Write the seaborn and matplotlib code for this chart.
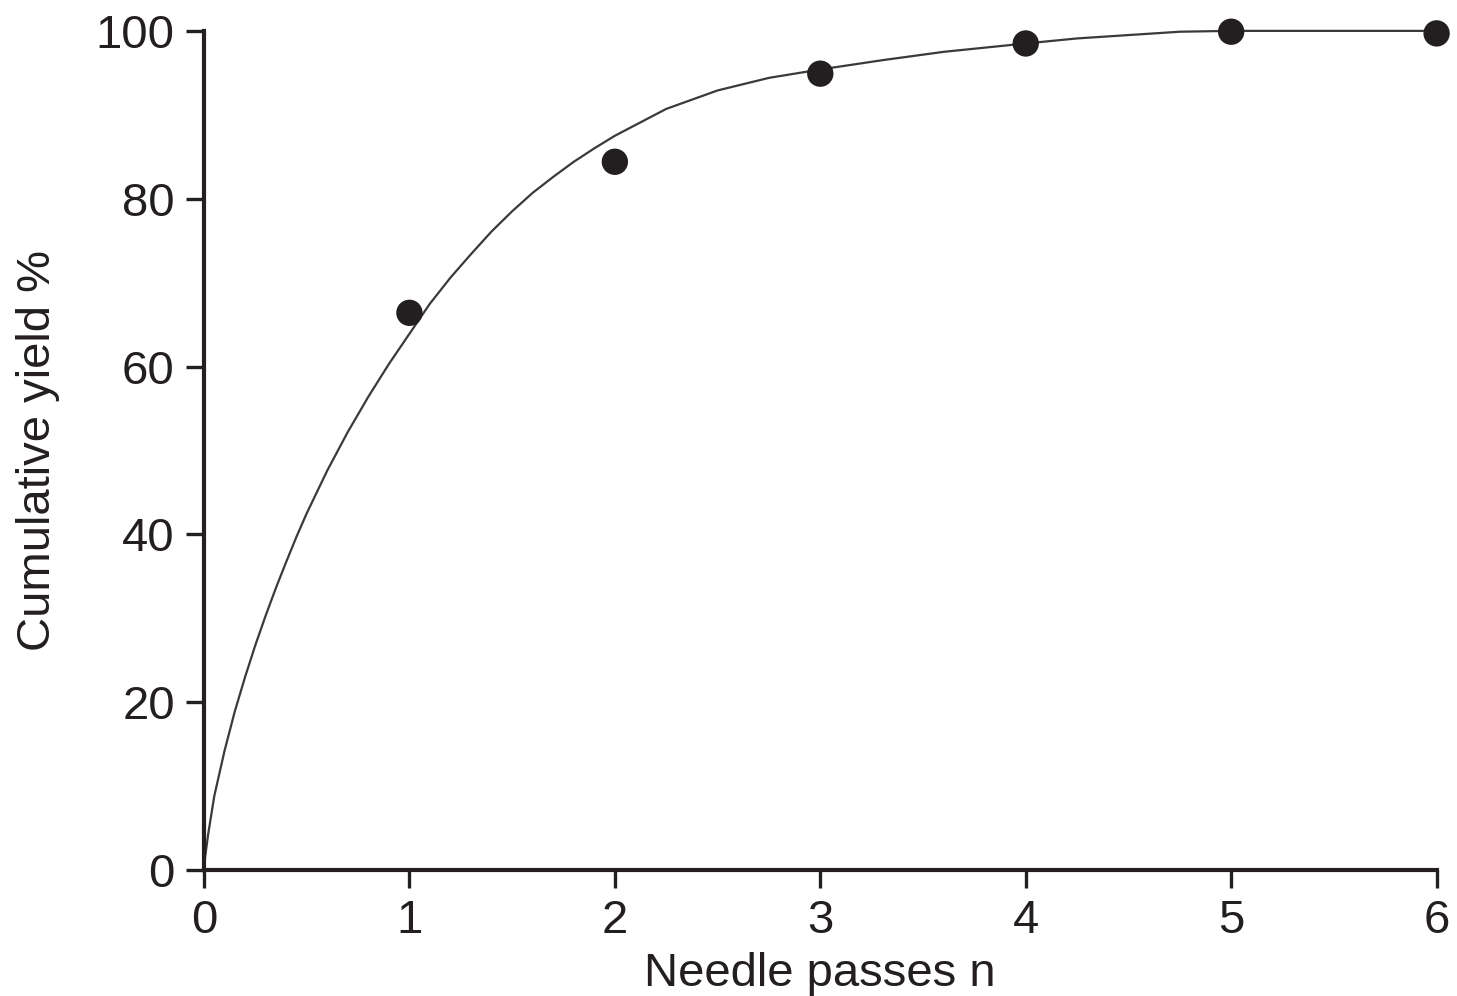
import pandas as pd
import matplotlib
matplotlib.use("Agg")
import matplotlib.pyplot as plt
import seaborn as sns

# measured points (needle passes vs cumulative yield)
passes = [1, 2, 3, 4, 5, 6]
yield_pct = [66.4, 84.4, 94.9, 98.5, 99.9, 99.7]

# fitted curve
curve_n = [0, 0.02, 0.05, 0.10, 0.15, 0.20, 0.25, 0.30, 0.35, 0.40, 0.45,
           0.50, 0.60, 0.70, 0.80, 0.90, 1.00, 1.10, 1.20, 1.30, 1.40, 1.50,
           1.60, 1.70, 1.80, 1.90, 2.00, 2.25, 2.50, 2.75, 3.00, 3.30, 3.60,
           4.00, 4.25, 4.50, 4.75, 5.00, 6.00]
curve_y = [0.5, 4.2, 8.8, 14.2, 18.9, 23.0, 26.8, 30.3, 33.6, 36.7, 39.7,
           42.5, 47.6, 52.2, 56.4, 60.3, 63.9, 67.5, 70.6, 73.4, 76.1, 78.5,
           80.7, 82.6, 84.4, 86.0, 87.5, 90.7, 92.9, 94.4, 95.4, 96.5, 97.5,
           98.5, 99.1, 99.5, 99.9, 100.0, 100.0]

x_ticks = [0, 1, 2, 3, 4, 5, 6]
y_ticks = [0, 20, 40, 60, 80, 100]

df_pts = pd.DataFrame({"n": passes, "yield": yield_pct})
df_fit = pd.DataFrame({"n": curve_n, "yield": curve_y})

sns.set_theme(style="ticks")
plt.rcParams['font.family'] = ['Liberation Sans', 'DejaVu Sans']

fig = plt.figure(figsize=(14.57, 9.96), dpi=100)
ax = fig.add_axes([0.140, 0.1265, 0.846, 0.8425])

sns.lineplot(x="n", y="yield", data=df_fit, ax=ax, color="#3a3a3a",
             linewidth=1.6, clip_on=False)
sns.scatterplot(x="n", y="yield", data=df_pts, ax=ax, color="#231f20",
                s=360, edgecolor="none", clip_on=False, zorder=5)

ax.set_xlim(0, 6)
ax.set_ylim(0, 100)
ax.set_xticks(x_ticks)
ax.set_yticks(y_ticks)
sns.despine(ax=ax)
for side in ["left", "bottom"]:
    ax.spines[side].set_linewidth(3)
    ax.spines[side].set_color("#231f20")
ax.tick_params(axis="both", length=13, width=2.4, color="#231f20",
               labelsize=34, labelcolor="#231f20", pad=8)

ax.set_xlabel("Needle passes n", fontsize=34, color="#231f20", labelpad=6)
ax.set_ylabel("Cumulative yield %", fontsize=34, color="#231f20", labelpad=26)

fig.savefig("out.png", dpi=100)
